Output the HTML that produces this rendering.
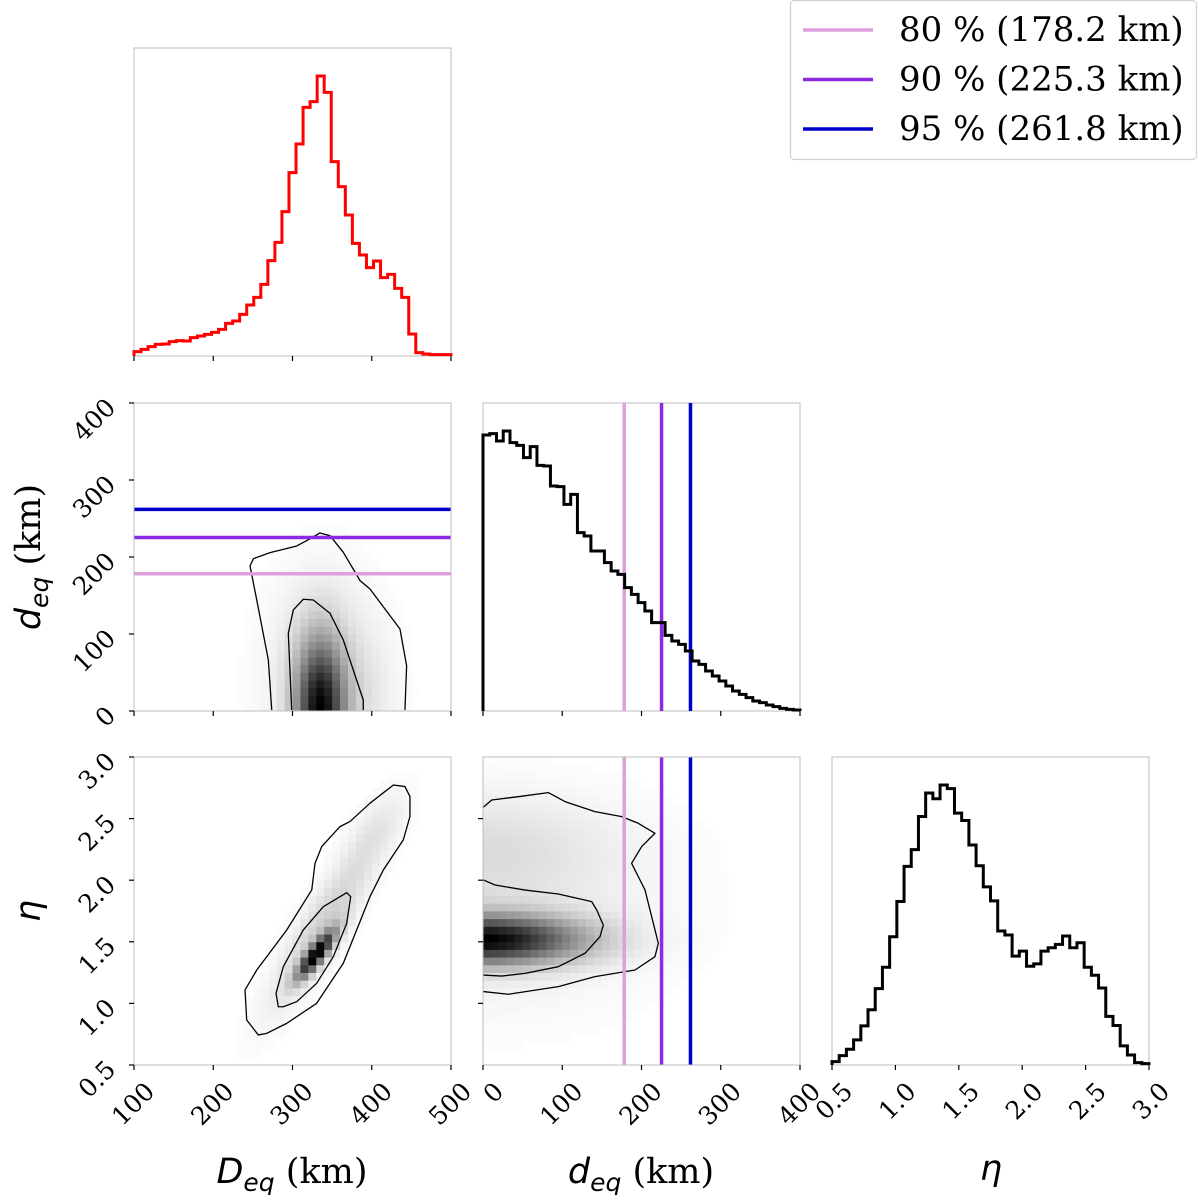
<!DOCTYPE html>
<html><head><meta charset="utf-8">
<style>
html,body{margin:0;padding:0;background:#fff;}
svg{display:block;}
.tick{font-family:"DejaVu Serif","Liberation Serif",serif;font-size:25px;fill:#000;}
.lab{font-family:"DejaVu Serif","Liberation Serif",serif;font-size:35px;fill:#000;}
.math{font-family:"DejaVu Sans","Liberation Sans",sans-serif;font-style:italic;}
.leg{font-family:"DejaVu Serif","Liberation Serif",serif;font-size:34px;fill:#000;}
</style></head>
<body>
<svg id="fig" width="1200" height="1195" viewBox="0 0 1200 1195" xmlns="http://www.w3.org/2000/svg"></svg>
<script>
// ---- data ----
const DeqRange = [100, 500];
const deqRange = [0, 400];
const etaRange = [0.5, 3.0];
const DeqTicks = [100, 200, 300, 400, 500];
const deqTicks = [0, 100, 200, 300, 400];
const etaTicks = [0.5, 1.0, 1.5, 2.0, 2.5, 3.0];
const DeqTickLabels = ["100", "200", "300", "400", "500"];
const deqTickLabels = ["0", "100", "200", "300", "400"];
const etaTickLabels = ["0.5", "1.0", "1.5", "2.0", "2.5", "3.0"];
const DeqHist = [13,20,28,35,36,43,46,45,55,60,65,71,80,98,105,125,153,176,215,286,341,433,550,636,746,763,840,791,583,508,423,338,303,265,285,235,245,203,176,66,10,6,4,4,4];
const deqHist = [828,832,810,840,805,797,760,793,737,735,675,673,620,650,535,525,480,480,445,420,410,370,350,325,300,265,265,227,210,200,180,150,140,120,105,90,75,60,50,40,30,25,18,13,8,5,3];
const etaHist = [10,28,47,75,117,165,228,292,383,488,593,643,742,812,795,836,825,752,730,657,595,532,490,400,388,325,340,295,302,340,350,360,385,350,365,292,268,230,145,118,57,30,7,4];
const thrValues = [178.2, 225.3, 261.8];
const thrLabels = ["80 % (178.2 km)", "90 % (225.3 km)", "95 % (261.8 km)"];
const thrColors = ["#dda0dd", "#8a2be2", "#0000cd"];
// density mixtures: [mx, my, sx, sy, rho, weight]
const mixB = [[335,0,20,60,0,1],[340,40,42,80,0,0.12],[385,20,28,50,0,0.05]];
const mixD = [[330,1.40,16,0.13,0.85,1],[340,1.65,42,0.42,0.88,0.14],[405,2.40,25,0.2,0.6,0.05]];
const mixE = [[0,1.52,80,0.13,0,1],[0,2.3,110,0.25,0,0.06],[0,1.8,130,0.5,0,0.07]];
// contours
const bOuterX = [273.8,269.5,254.9,246.4,250.7,271.7,305.4,321.9,334.5,347.3,364.1,385.2,397.8,435.6,444.0,441.9];
const bOuterY = [1.3,66.2,144.2,188.3,197.8,205.7,214.3,223.4,231.2,227.7,206.1,169.3,158.4,106.5,58.7,1.3];
const bInnerX = [299.0,294.7,301.0,313.6,326.2,347.3,364.1,372.5,389.3,389.3];
const bInnerY = [1.3,100.9,131.2,145.1,144.2,126.9,92.2,66.2,14.3,1.3];
const dOuterX = [256.8,242.2,240.1,254.9,292.7,324.3,328.4,336.9,359.9,372.5,397.8,427.3,441.9,448.2,448.2,439.8,414.6,397.8,364.1,330.5,292.7,267.5];
const dOuterY = [0.744,0.865,1.109,1.271,1.596,1.921,2.137,2.273,2.435,2.476,2.625,2.773,2.760,2.679,2.517,2.327,2.083,1.867,1.326,1.001,0.838,0.757];
const dInnerX = [282.1,279.2,288.4,313.6,338.9,368.4,373.4,368.4,351.5,330.5,305.3,288.4];
const dInnerY = [0.973,1.082,1.298,1.596,1.785,1.899,1.866,1.650,1.379,1.163,1.014,0.973];
const eOuterX = [0.4,11,44.5,82.4,103.4,141.3,175,195.9,217,200.2,187.5,204.4,212.8,221.2,217,191.8,141.3,95,31.9,0.4];
const eOuterY = [2.592,2.651,2.678,2.711,2.638,2.557,2.516,2.462,2.381,2.273,2.137,1.921,1.705,1.488,1.379,1.271,1.217,1.136,1.074,1.096];
const eInnerX = [0.4,15.1,53,95,137.2,143.5,151.8,147.6,128.7,95,53,23.6,0.4];
const eInnerY = [2.002,1.961,1.920,1.888,1.826,1.758,1.636,1.541,1.407,1.298,1.244,1.222,1.230];

// ---- drawing ----
const NS = "http://www.w3.org/2000/svg";
const svg = document.getElementById("fig");
function mk(tag, attrs, parent) {
  const e = document.createElementNS(NS, tag);
  for (const k in attrs) e.setAttribute(k, attrs[k]);
  (parent || svg).appendChild(e);
  return e;
}
const W = 317, H = 308;
function panel(x0, y0, xr, yr) {
  return {x0, y0, xr, yr,
    sx: v => x0 + (v - xr[0]) / (xr[1] - xr[0]) * W,
    sy: v => y0 + H - (v - yr[0]) / (yr[1] - yr[0]) * H};
}
function frame(p, name) {
  const r = mk("rect", {x: p.x0, y: p.y0, width: W, height: H, fill: "none", stroke: "#bdbdbd", "stroke-width": 1});
  
  
}
function xTicks(p, ticks, labels, name) {
  ticks.forEach((t, i) => {
    const x = p.sx(t);
    const l = mk("line", {x1: x, x2: x, y1: p.y0 + H, y2: p.y0 + H + 5, stroke: "#000", "stroke-width": 1.2});
    
    
    if (labels) {
      const tx = x + 22, ty = p.y0 + H + 28;
      const tt = mk("text", {x: tx, y: ty, "text-anchor": "end", class: "tick", transform: `rotate(-45 ${tx} ${ty})`});
      tt.textContent = labels[i];
      
      
    }
  });
}
function yTicks(p, ticks, labels, name) {
  ticks.forEach((t, i) => {
    const y = p.sy(t);
    const l = mk("line", {x1: p.x0 - 5, x2: p.x0, y1: y, y2: y, stroke: "#000", "stroke-width": 1.2});
    
    
    if (labels) {
      const tx = p.x0 - 17, ty = y + 6;
      const tt = mk("text", {x: tx, y: ty, "text-anchor": "end", class: "tick", transform: `rotate(-45 ${tx} ${ty})`});
      tt.textContent = labels[i];
      
      
    }
  });
}
function hist(p, vals, color, name) {
  const n = vals.length;
  const mx = Math.max(...vals) * 1.1;
  const bw = (p.xr[1] - p.xr[0]) / n;
  const yv = v => p.y0 + H - v / mx * H;
  let d = `M${p.sx(p.xr[0])},${p.y0 + H}`;
  vals.forEach((v, i) => {
    d += ` L${p.sx(p.xr[0] + i * bw)},${yv(v)} L${p.sx(p.xr[0] + (i + 1) * bw)},${yv(v)}`;
  });
  d += ` L${p.sx(p.xr[1])},${p.y0 + H}`;
  const e = mk("path", {d, fill: "none", stroke: color, "stroke-width": 3, "stroke-linejoin": "miter"});
  
  
}
function density(p, mix, name) {
  const g = mk("g", {});
  
  
  const N = 40;
  const dx = (p.xr[1] - p.xr[0]) / N, dy = (p.yr[1] - p.yr[0]) / N;
  const f = (x, y) => {
    let s = 0;
    mix.forEach(m => {
      const u = (x - m[0]) / m[2], v = (y - m[1]) / m[3], r = m[4];
      s += m[5] * Math.exp(-(u * u - 2 * r * u * v + v * v) / (2 * (1 - r * r)));
    });
    return s;
  };
  const vals = [];
  let mx = 0;
  for (let i = 0; i < N; i++) for (let j = 0; j < N; j++) {
    const v = f(p.xr[0] + (i + 0.5) * dx, p.yr[0] + (j + 0.5) * dy);
    vals.push([i, j, v]);
    if (v > mx) mx = v;
  }
  vals.forEach(([i, j, v]) => {
    const t = Math.pow(v / mx, 0.85);
    if (t < 0.01) return;
    const c = Math.round(255 * (1 - t));
    const x1 = p.sx(p.xr[0] + i * dx), x2 = p.sx(p.xr[0] + (i + 1) * dx);
    const y1 = p.sy(p.yr[0] + (j + 1) * dy), y2 = p.sy(p.yr[0] + j * dy);
    const r = mk("rect", {x: x1, y: y1, width: x2 - x1 + 0.4, height: y2 - y1 + 0.4, fill: `rgb(${c},${c},${c})`}, g);
    
    
  });
}
function contour(p, xs, ys, name, closed) {
  let d = xs.map((x, i) => (i ? "L" : "M") + p.sx(x) + "," + p.sy(ys[i])).join(" ");
  if (closed) d += " Z";
  const e = mk("path", {d, fill: "none", stroke: "#000", "stroke-width": 1.3, "stroke-linejoin": "round"});
  
  
}
function vlines(p, name) {
  thrValues.forEach((v, i) => {
    const x = p.sx(v);
    const l = mk("line", {x1: x, x2: x, y1: p.y0, y2: p.y0 + H, stroke: thrColors[i], "stroke-width": 3.5});
    
    
  });
}
function hlines(p, name) {
  thrValues.forEach((v, i) => {
    const y = p.sy(v);
    const l = mk("line", {x1: p.x0, x2: p.x0 + W, y1: y, y2: y, stroke: thrColors[i], "stroke-width": 3.5});
    
    
  });
}

const A = panel(134, 48, DeqRange, [0, 1]);
const B = panel(134, 403, DeqRange, deqRange);
const C = panel(483, 403, deqRange, [0, 1]);
const D = panel(134, 757, DeqRange, etaRange);
const E = panel(483, 757, deqRange, etaRange);
const F = panel(832, 757, etaRange, [0, 1]);

// A
frame(A, 'Deq-hist'); xTicks(A, DeqTicks, null, 'Deq-hist'); hist(A, DeqHist, "#ff0000", 'Deq-histogram');
// B
density(B, mixB, 'Deq-deq-density');
contour(B, bOuterX, bOuterY, 'Deq-deq-outer-contour', false);
contour(B, bInnerX, bInnerY, 'Deq-deq-inner-contour', false);
hlines(B, 'Deq-deq');
frame(B, 'Deq-deq'); xTicks(B, DeqTicks, null, 'Deq-deq'); yTicks(B, deqTicks, deqTickLabels, 'Deq-deq');
// C
frame(C, 'deq-hist'); xTicks(C, deqTicks, null, 'deq-hist'); vlines(C, 'deq-hist'); hist(C, deqHist, "#000", 'deq-histogram');
// D
density(D, mixD, 'Deq-eta-density');
contour(D, dOuterX, dOuterY, 'Deq-eta-outer-contour', true);
contour(D, dInnerX, dInnerY, 'Deq-eta-inner-contour', true);
frame(D, 'Deq-eta'); xTicks(D, DeqTicks, DeqTickLabels, 'Deq-eta'); yTicks(D, etaTicks, etaTickLabels, 'Deq-eta');
// E
density(E, mixE, 'deq-eta-density');
contour(E, eOuterX, eOuterY, 'deq-eta-outer-contour', false);
contour(E, eInnerX, eInnerY, 'deq-eta-inner-contour', false);
vlines(E, 'deq-eta');
frame(E, 'deq-eta'); xTicks(E, deqTicks, deqTickLabels, 'deq-eta'); yTicks(E, etaTicks.slice(1, 5), null, 'deq-eta');
// F
frame(F, 'eta-hist'); xTicks(F, etaTicks, etaTickLabels, 'eta-hist'); hist(F, etaHist, "#000", 'eta-histogram');

// legend
const lg = mk("g", {});


const lb = mk("rect", {x: 790.5, y: 0.5, width: 406, height: 159, rx: 4, fill: "#fff", stroke: "#d0d0d0", "stroke-width": 1.2}, lg);


thrLabels.forEach((t, i) => {
  const y = 30 + i * 49.5;
  const l = mk("line", {x1: 803, x2: 873, y1: y, y2: y, stroke: thrColors[i], "stroke-width": 3.5}, lg);
  
  
  const tx = mk("text", {x: 899, y: y + 11, class: "leg"}, lg);
  tx.textContent = t;
  
  
});
</script>
<svg style="position:absolute;left:0;top:0" width="1200" height="1195">
  <text x="292" y="1183" text-anchor="middle" class="lab"><tspan class="math">D</tspan><tspan class="math" font-size="25" dy="8">eq</tspan><tspan dy="-8"> (km)</tspan></text>
  <text x="641" y="1183" text-anchor="middle" class="lab"><tspan class="math">d</tspan><tspan class="math" font-size="25" dy="8">eq</tspan><tspan dy="-8"> (km)</tspan></text>
  <text x="991" y="1180" text-anchor="middle" class="lab"><tspan class="math">η</tspan></text>
  <text x="0" y="0" text-anchor="middle" class="lab" transform="translate(40 557) rotate(-90)"><tspan class="math">d</tspan><tspan class="math" font-size="25" dy="8">eq</tspan><tspan dy="-8"> (km)</tspan></text>
  <text x="0" y="0" text-anchor="middle" class="lab" transform="translate(40 911) rotate(-90)"><tspan class="math">η</tspan></text>
</svg>
</body></html>
